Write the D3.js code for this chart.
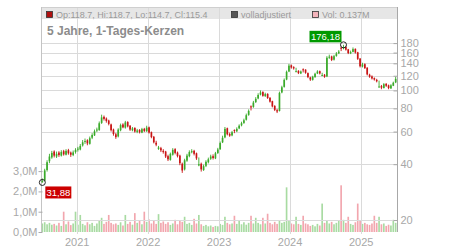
<!DOCTYPE html>
<html><head><meta charset="utf-8">
<script src="https://cdn.jsdelivr.net/npm/d3@7"></script>
<style>body{margin:0;background:#fff}svg{display:block;font-family:"Liberation Sans",Arial,sans-serif}</style>
</head><body><svg id="c" width="450" height="250"></svg>
<script>
// ---- data ----
const opens=[31.9,32.6,37.2,41.5,43.5,46.8,44,46.2,44.5,47,45,47.6,46.2,44.8,46.5,48.2,48,50.5,53,53.8,
51.5,55.6,57.2,60.8,61.2,66.8,72,70.5,68.8,65.5,61.5,58,56.5,61,65.5,63,67.5,64.5,61,62.8,
59.8,61.2,59.2,62,60.2,63.2,59.5,56.2,52.2,48.4,48.8,47.2,46.8,44.2,42.2,45,48.2,46.2,44.5,40.2,
37.5,41.8,44.2,46.8,47.2,45.8,39.4,40.2,37.2,39.2,41,42.8,44.2,43,46,48.2,52.5,55.8,62.5,58.2,
57.2,61.2,60.2,62.4,64.8,66.8,69.5,73.8,82,81.5,86.5,90.5,95,98,93.2,95.8,91.2,87.5,82.5,78.2,
77.5,97.5,104.5,114.5,126.5,136.5,133.5,126,127.5,123.5,130,129.5,124,117.5,114,118,123.5,127,120.5,121.5,
119,150.5,152.5,146.5,153.5,158.5,170,168.5,171.5,166.5,158.5,161.5,167.5,160.5,148.5,134.5,138.5,132.5,121.5,119,
116.5,114,104,105.5,103,108.5,106.5,102.5,106,110.5];
const highs=[33.5,37.8,42,45.5,47.2,47.5,46.8,47,47.6,47.8,48.2,48.4,46.8,47.4,48.8,49.6,51.4,54,55,54.5,
56.4,58.8,61.5,63,68,74,73.2,71.5,69.5,66.2,62.2,59,62.5,66.2,66.5,68.5,68.2,65,63.5,63.2,
62,61.8,62.8,62.8,64.5,63.8,60,56.8,53.5,50.2,49.6,48.2,47.2,45,46.2,48.8,48.8,46.8,45,40.8,
42.8,45.5,47.5,48.2,47.8,46.2,43.5,40.8,39.8,42,43.4,45,45.2,46.6,49,53,57,63.5,63,59.2,
60.5,61.6,63.2,65.6,67.8,70.4,75,79,83,87.8,92,96.5,100,99,97.2,96.5,92,88,83.2,79.5,
98.5,106,116,128,139,138,135,132.5,128.5,128,131.5,130,125,118.5,120,124.5,128.5,128,124.5,122.5,
153,156,154,155.5,161,165,172,176.18,173,167.5,164,170.5,168.5,161.5,149.5,141,140,133.5,123,120.5,
117.5,115.5,113,107,109.5,109.5,107.5,108,111.5,118.7];
const lows=[31.88,32.4,36.5,40.5,42.8,43.5,43.2,43.8,44,44.5,44.6,45,43.8,44.2,45.6,46.8,47.5,49.8,51.5,50.6,
51,54.6,56.8,59.6,60.5,66,68.8,67,64.8,60,57,54.8,55.8,60.2,62.5,62.2,63.2,60.5,60.2,59.2,
58.8,58.6,58.8,59.6,59.8,58.5,55.2,51.8,50,47.8,46.5,45.6,43.2,41.6,41.8,44.5,45.2,43.5,39.5,35.9,
37,41.2,43.6,45.8,44.6,42.2,39,36.5,36.8,38.6,40.4,42.2,42.4,42.6,45.4,47.8,52,55.2,57.2,56.2,
56.6,58.8,59.6,61.8,64,66,68.8,73,78,80.6,85.6,89.6,94,92.5,92.2,90,86,81,77.4,75.5,
77,96.5,103.5,113.5,125.5,131,129.5,125.5,122.5,122.5,125,123,116.5,112.5,113,117,122.5,122,119.5,117,
118,148,144,145,152,157,163,166.5,164,157,157,160.5,158,146,133,133,130.5,120.5,117,114.5,
113,110.5,103.5,101.5,102.5,104.5,101.5,102,105.5,109.5];
const closes=[32.5,37,41,44,46,44.5,45.5,44.8,46.5,45.2,47.2,45.8,45,46.3,47.8,48.5,50.2,52.5,53.4,51.8,
55.2,57.5,60.2,61.5,66.5,71.5,70.2,68.4,66,61,58.2,56,61.5,65,63.2,67.2,64,61.5,62.4,60,
60.8,59.5,61.8,60.5,63,59.2,56,52.5,51,49.2,47.5,46.5,44,42.5,45.5,47.8,46,44.2,40.5,37,
42,44.5,46.5,47,45.5,43,40,37.5,39,41.2,42.5,44,43.2,45.8,48,52,55.5,62,58,57,
59.5,60.5,62,64.5,66.5,69,73.5,77.5,81,86,90,94.5,97.5,93.5,95.5,91,87,82,78.5,77,
97,104,114,126,136,133,131.5,127,124,126.5,129,124.5,118,114.5,118.5,123,126.5,123.5,121,118.5,
150,152,146,153,158,162,168,171,166,159,161,167,160,148,135,138,132,122,118.5,116,
114.5,112,105,103.5,108,106,103,106.5,110,115.4];
const volumes=[0.42,0.48,0.38,0.45,0.36,0.4,0.32,0.45,0.3,1.0,0.38,0.52,0.34,0.42,1.0,0.36,0.84,0.4,0.33,0.48,
0.38,0.45,0.3,0.42,0.55,0.7,0.4,0.5,0.84,0.45,0.38,0.42,0.35,0.48,0.32,0.84,0.4,0.5,0.36,0.93,
0.45,0.55,0.38,1.0,0.5,0.62,0.42,0.58,0.4,0.88,0.45,0.52,0.4,0.48,0.35,0.42,0.6,0.38,0.55,0.5,
0.75,0.4,0.45,0.35,0.65,0.42,0.84,0.38,0.3,0.35,0.28,0.32,0.25,0.3,0.28,0.4,0.35,0.75,0.45,0.38,
0.42,0.8,0.4,0.55,0.38,0.48,0.36,0.45,0.8,0.42,0.7,0.45,0.38,0.7,0.42,0.9,0.45,0.38,0.5,0.4,
0.55,0.45,0.5,2.2,0.55,0.42,0.38,0.75,0.4,0.35,0.8,0.42,0.38,0.3,0.35,0.28,0.4,0.32,1.4,0.45,
0.55,0.42,0.5,0.38,0.45,0.55,2.3,0.6,0.45,0.75,0.4,0.35,0.48,1.4,0.55,0.4,0.45,0.38,0.35,0.42,
0.8,0.45,0.75,0.38,0.42,0.3,0.36,0.32,0.6,0.45];
const yearTicks=[2021,2022,2023,2024,2025];
const priceTicks=[20,40,60,80,100,120,140,160,180];
const volTicks=[0,1,2,3];
const titleText="5 Jahre, 1-Tages-Kerzen";
const legendLabels=["Op:118.7, Hi:118.7, Lo:114.7, Cl:115.4","volladjustiert","Vol: 0.137M"];
const lowLabel="31,88", highLabel="176,18";

// ---- layout ----
const L=41,R=397,T=7,B=232;
const svg=d3.select("#c");
const n=closes.length;
const x=d3.scaleTime().domain([new Date(2020,5,29),new Date(2025,6,4)]).range([L,R]);
const xb=d3.scaleBand().domain(d3.range(n)).range([L+0.5,R-0.5]).paddingInner(0.3);
const y=d3.scaleLog().domain([20,180]).range([220,43.1]);
const yv=d3.scaleLinear().domain([0,3]).range([B,171.1]);
const de=d3.formatLocale({decimal:",",thousands:".",grouping:[3],currency:["","€"]});
const fv=de.format(".1f"), fp=de.format(".2f");
const grid="#dadada", lab="#a8a8a8";
const up="#3aaa2a", dn="#c81414", upV="#a8dba2", dnV="#f2a6ae";

// legend band
svg.append("rect").attr("x",L).attr("y",T).attr("width",R-L).attr("height",12).attr("fill","#e6e6e6");

// volume bars
svg.append("g").selectAll("rect").data(volumes).join("rect")
  .attr("x",(d,i)=>xb(i)).attr("width",xb.bandwidth())
  .attr("y",d=>yv(d)).attr("height",d=>B-yv(d))
  .attr("fill",(d,i)=>closes[i]>=opens[i]?upV:dnV);

// grid
const g=svg.append("g").attr("shape-rendering","crispEdges");
g.selectAll(".v").data(yearTicks).join("line")
  .attr("x1",d=>Math.round(x(new Date(d,0,1)))+0.5).attr("x2",d=>Math.round(x(new Date(d,0,1)))+0.5)
  .attr("y1",T).attr("y2",B+2).attr("stroke",grid);
g.selectAll(".h").data(priceTicks).join("line")
  .attr("x1",L).attr("x2",R).attr("y1",d=>Math.round(y(d))+0.5).attr("y2",d=>Math.round(y(d))+0.5)
  .attr("stroke",grid);
g.append("line").attr("x1",L).attr("x2",R).attr("y1",T+0.5).attr("y2",T+0.5).attr("stroke","#cfcfcf");
g.append("line").attr("x1",L+0.5).attr("x2",L+0.5).attr("y1",T).attr("y2",B).attr("stroke","#c4c4c4");
g.append("line").attr("x1",R+0.5).attr("x2",R+0.5).attr("y1",T).attr("y2",B).attr("stroke","#a8a8a8");

// candles
const cg=svg.append("g");
const idx=d3.range(n);
cg.selectAll(".w").data(idx).join("line")
  .attr("x1",i=>xb(i)+xb.bandwidth()/2).attr("x2",i=>xb(i)+xb.bandwidth()/2)
  .attr("y1",i=>y(highs[i])).attr("y2",i=>y(lows[i]))
  .attr("stroke",i=>closes[i]>=opens[i]?up:dn).attr("stroke-width",0.9);
cg.selectAll(".b").data(idx).join("rect")
  .attr("x",i=>xb(i)).attr("width",xb.bandwidth())
  .attr("y",i=>y(Math.max(opens[i],closes[i])))
  .attr("height",i=>Math.max(1,Math.abs(y(opens[i])-y(closes[i]))))
  .attr("fill",i=>closes[i]>=opens[i]?up:dn);

// extreme markers
const iMin=d3.minIndex(lows), iMax=d3.maxIndex(highs);
const cxMin=xb(iMin)+xb.bandwidth()/2, cyMin=y(lows[iMin]);
const cxMax=xb(iMax)+xb.bandwidth()/2, cyMax=y(highs[iMax]);
svg.append("circle").attr("cx",cxMin).attr("cy",cyMin).attr("r",3).attr("fill","none").attr("stroke","#222");
svg.append("circle").attr("cx",cxMax).attr("cy",cyMax).attr("r",3).attr("fill","none").attr("stroke","#222");
svg.append("rect").attr("x",cxMin+3).attr("y",cyMin+4).attr("width",26).attr("height",12).attr("fill","#cc0000");
svg.append("text").attr("x",cxMin+16).attr("y",cyMin+13.3).attr("text-anchor","middle").attr("fill","#fff")
  .attr("font-size",9.5).text(lowLabel);
svg.append("rect").attr("x",cxMax-34).attr("y",cyMax-14).attr("width",32).attr("height",11.5).attr("fill","#009900");
svg.append("text").attr("x",cxMax-18).attr("y",cyMax-5).attr("text-anchor","middle").attr("fill","#fff")
  .attr("font-size",9.5).text(highLabel);

// right price axis
const ra=svg.append("g").attr("transform",`translate(${R+0.5},0)`)
  .call(d3.axisRight(y).tickValues(priceTicks).tickFormat(d3.format("d")).tickSizeInner(-4).tickSizeOuter(0).tickPadding(3));
ra.select(".domain").remove();
ra.selectAll("line").attr("stroke","#a8a8a8");
ra.selectAll("text").attr("fill",lab).attr("font-size",11).attr("font-family","Liberation Sans, Arial, sans-serif");

// left volume axis
const la=svg.append("g").attr("transform",`translate(${L+1.5},0)`)
  .call(d3.axisLeft(yv).tickValues(volTicks).tickFormat(d=>fv(d)+"M").tickSizeInner(4).tickSizeOuter(0).tickPadding(1));
la.select(".domain").remove();
la.selectAll("line").attr("stroke","#a8a8a8");
la.selectAll("text").attr("fill",lab).attr("font-size",11).attr("font-family","Liberation Sans, Arial, sans-serif");

// year labels
svg.append("g").selectAll("text").data(yearTicks).join("text")
  .attr("x",d=>x(new Date(d,0,1))).attr("y",245.5).attr("text-anchor","middle")
  .attr("fill",lab).attr("font-size",11).text(d=>d);

// title
svg.append("text").attr("x",47).attr("y",34.5).attr("fill","#8c8c8c").attr("font-size",12)
  .attr("font-weight","bold").text(titleText);

// legend
const lx=[46,231,312], lc=["#b01010","#555555","#f4b4bb"];
legendLabels.forEach((t,k)=>{
  svg.append("rect").attr("x",lx[k]+0.5).attr("y",11.5).attr("width",6).attr("height",6)
    .attr("fill",lc[k]).attr("stroke","#333").attr("stroke-width",0.8);
  svg.append("text").attr("x",lx[k]+10).attr("y",18).attr("fill","#9a9a9a").attr("font-size",9).text(t);
});
</script></body></html>
